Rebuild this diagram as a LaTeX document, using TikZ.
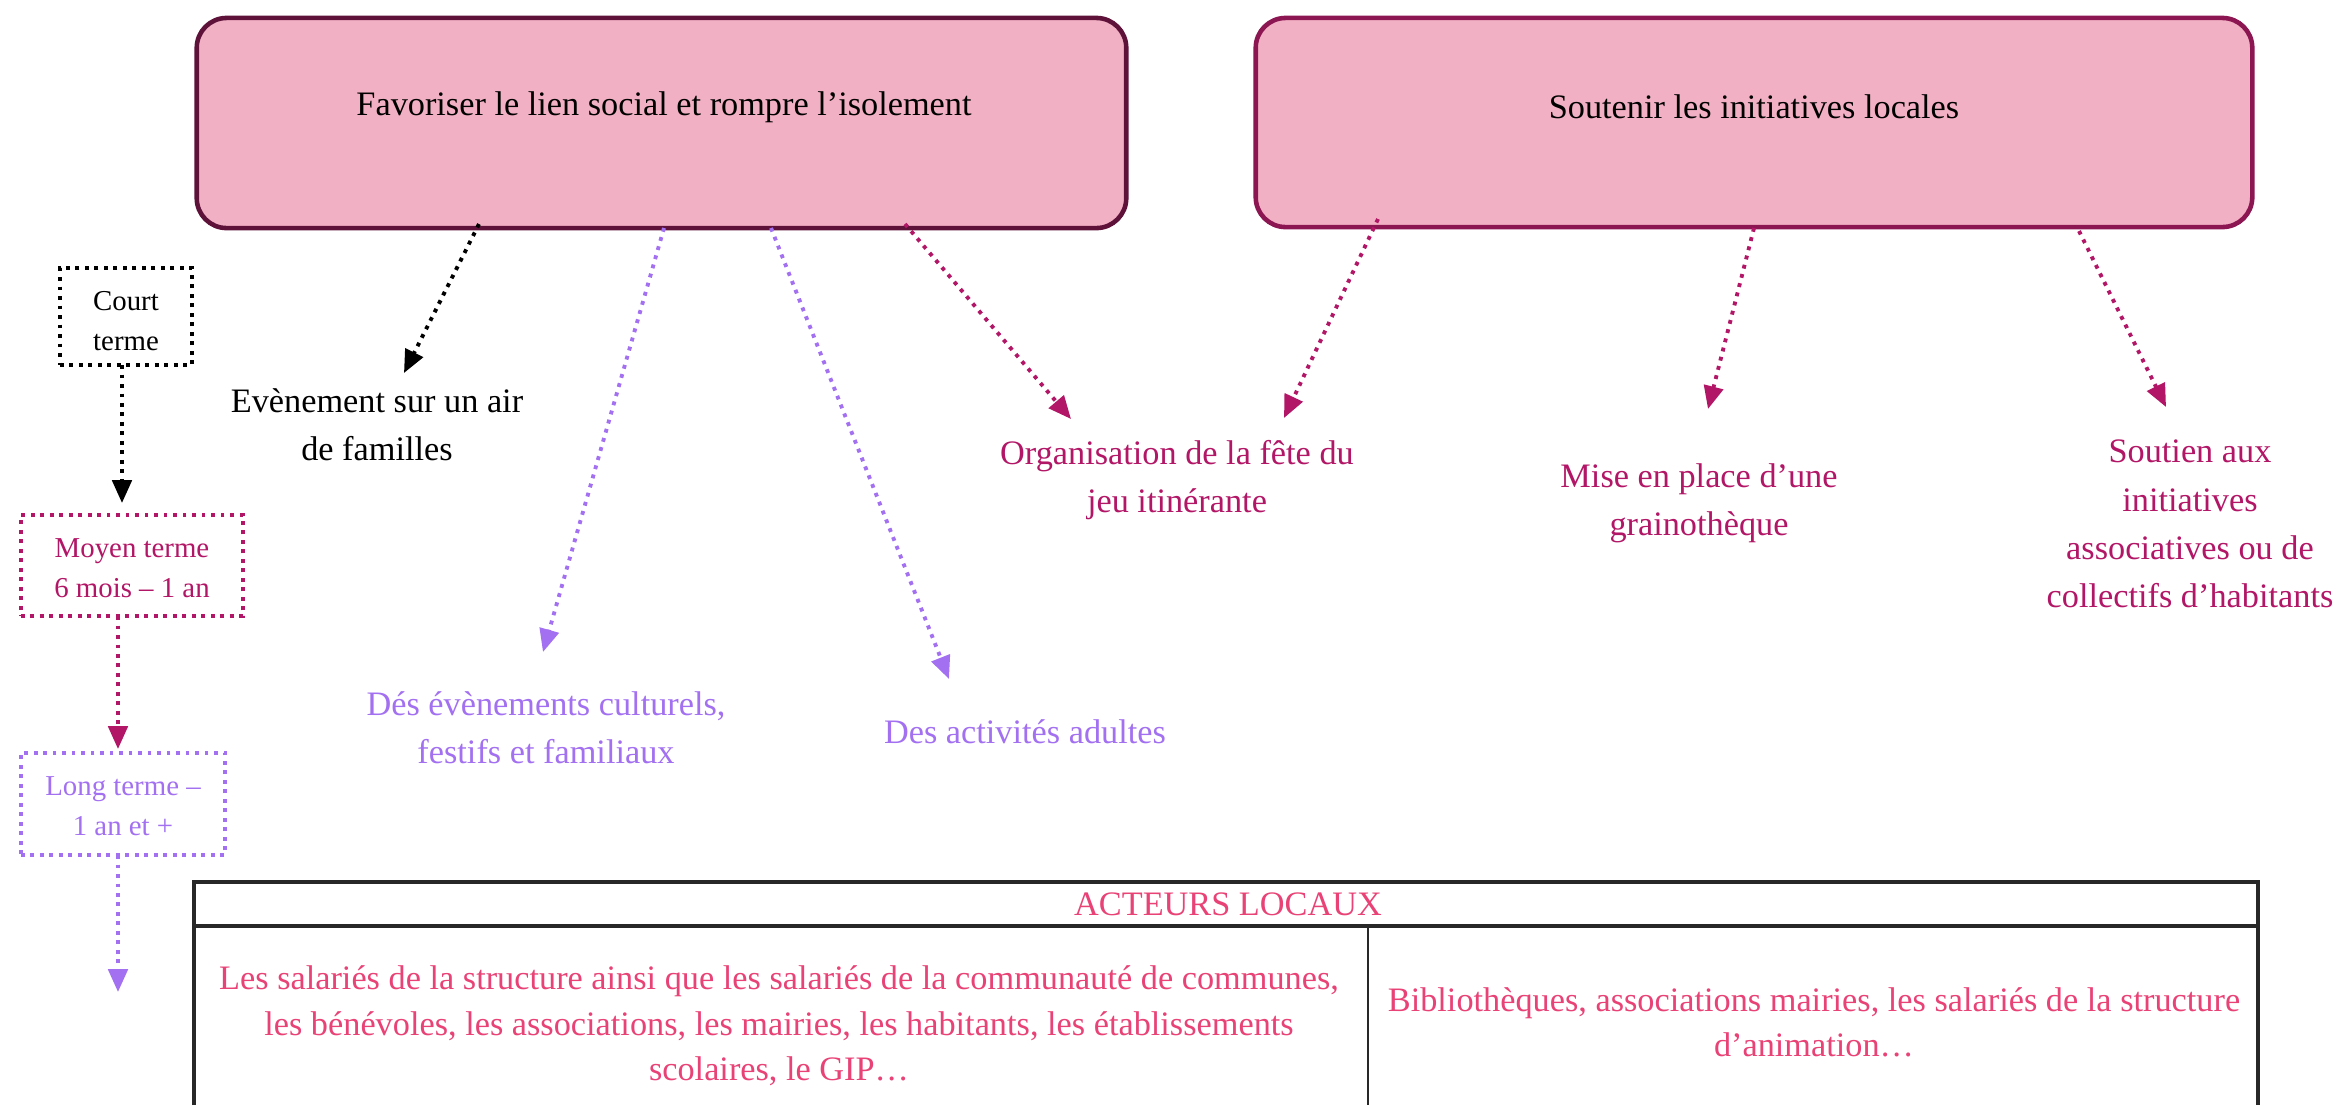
\documentclass[tikz,border=0pt]{standalone}
\usepackage{fontspec}
\setmainfont{Liberation Serif}
\usetikzlibrary{arrows.meta}
\definecolor{boxfill}{RGB}{242,176,196}
\definecolor{boxdrawA}{RGB}{94,18,58}
\definecolor{boxdrawB}{RGB}{140,22,82}
\definecolor{mag}{RGB}{178,22,102}
\definecolor{lav}{RGB}{162,112,240}
\definecolor{pinktxt}{RGB}{232,66,118}
\definecolor{tblline}{RGB}{40,40,40}
\begin{document}
\begin{tikzpicture}[x=0.01cm,y=-0.01cm,
 goal/.style={draw, line width=1.3pt, fill=boxfill, rounded corners=8.5pt, inner sep=0pt},
 txt/.style={align=center, font=\fontsize{9.75}{13.7}\selectfont, inner sep=0pt},
 tbltxt/.style={align=center, font=\fontsize{9.75}{12.9}\selectfont, inner sep=0pt, text=pinktxt},
 smalltxt/.style={align=center, font=\fontsize{8.2}{11.5}\selectfont, inner sep=0pt},
 conn/.style={line width=1.1pt, dash pattern=on 1.1pt off 1.6pt, -{Triangle[length=6.5pt,width=5.5pt]}},
 termbox/.style={draw, line width=1.1pt, dash pattern=on 1.1pt off 1.6pt, inner sep=0pt},
 tbl/.style={draw=tblline, line width=0.9pt}
]
\useasboundingbox (0,0) rectangle (2339,1105);

% goal boxes
\node[goal, draw=boxdrawA, minimum width=9.29cm, minimum height=2.1cm] (b1) at (661.5,123) {};
\node[txt] (b1t) at (664,107) {Favoriser le lien social et rompre l’isolement};
\node[goal, draw=boxdrawB, minimum width=9.96cm, minimum height=2.09cm] (b2) at (1754,122.5) {};
\node[txt] (b2t) at (1754,107) {Soutenir les initiatives locales};

% term boxes
\node[termbox, draw=black, minimum width=1.32cm, minimum height=0.97cm] (court) at (126,316.5) {};
\node[smalltxt] (courtt) at (126,321) {Court\\terme};
\node[termbox, draw=mag, minimum width=2.22cm, minimum height=1.01cm] (moyen) at (132,565.5) {};
\node[smalltxt, text=mag] (moyent) at (132,568) {Moyen terme\\6 mois – 1 an};
\node[termbox, draw=lav, minimum width=2.04cm, minimum height=1.02cm] (long) at (123,804) {};
\node[smalltxt, text=lav] (longt) at (123,806) {Long terme –\\1 an et +};

\coordinate (c1s) at (122,365);
\coordinate (c1e) at (122,503);
\coordinate (c2s) at (118,616);
\coordinate (c2e) at (118,749);
\coordinate (c3s) at (118,855);
\coordinate (c3e) at (118,992);
\draw[conn, black] (c1s) -- (c1e);
\draw[conn, mag] (c2s) -- (c2e);
\draw[conn, lav] (c3s) -- (c3e);

% action texts
\node[txt] (ev) at (377,425) {Evènement sur un air\\de familles};
\node[txt, text=lav] (cult) at (546,728) {Dés évènements culturels,\\festifs et familiaux};
\node[txt, text=lav] (adult) at (1025,732) {Des activités adultes};
\node[txt, text=mag] (orga) at (1177,480) {Organisation de la fête du\\jeu itinérante};
\node[txt, text=mag] (grain) at (1699,503) {Mise en place d’une\\grainothèque};
\node[txt, text=mag] (sout) at (2190,524) {Soutien aux\\initiatives\\associatives ou de\\collectifs d’habitants};

% connectors
\coordinate (s1) at (479,224);   \coordinate (e1) at (404,373);
\coordinate (s2) at (664,228);   \coordinate (e2) at (543,652);
\coordinate (s3) at (771,228);   \coordinate (e3) at (949,679);
\coordinate (s4) at (905,224);   \coordinate (e4) at (1071,419);
\coordinate (s5) at (1378,219);  \coordinate (e5) at (1284,418);
\coordinate (s6) at (1754,228);  \coordinate (e6) at (1708,409);
\coordinate (s7) at (2079,231);  \coordinate (e7) at (2166,407);
\draw[conn, black] (s1) -- (e1);
\draw[conn, lav] (s2) -- (e2);
\draw[conn, lav] (s3) -- (e3);
\draw[conn, mag] (s4) -- (e4);
\draw[conn, mag] (s5) -- (e5);
\draw[conn, mag] (s6) -- (e6);
\draw[conn, mag] (s7) -- (e7);

% table
\draw[tbl] (194,1105) -- (194,882) -- (2258,882) -- (2258,1105);
\draw[tbl] (194,926) -- (2258,926);
\draw[tblline, line width=0.5pt] (1368,926) -- (1368,1105);
\node[tbltxt] (hdr) at (1228,904) {ACTEURS LOCAUX};
\node[tbltxt] (left) at (779,1026) {Les salariés de la structure ainsi que les salariés de la communauté de communes,\\les bénévoles, les associations, les mairies, les habitants, les établissements\\scolaires, le GIP…};
\node[tbltxt] (right) at (1814,1022) {Bibliothèques, associations mairies, les salariés de la structure\\d’animation…};
\end{tikzpicture}
\end{document}
